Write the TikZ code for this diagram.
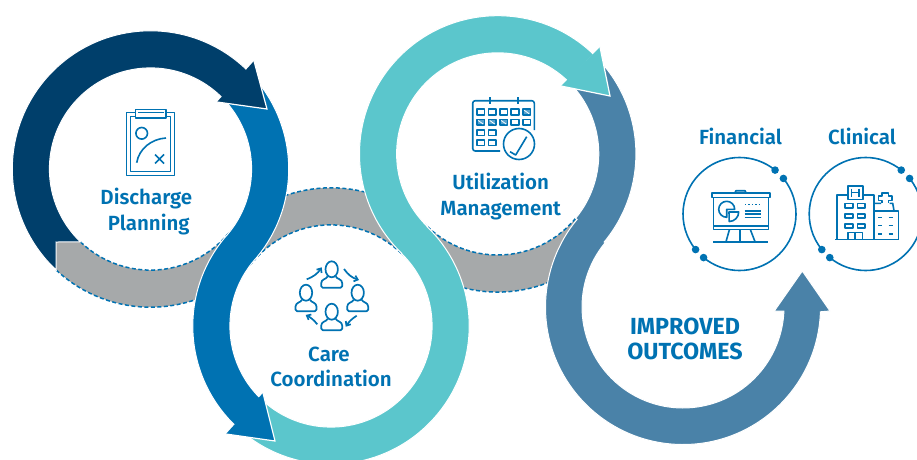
\documentclass[tikz,border=0pt]{standalone}
\usepackage{fontspec}
\setmainfont{Fira Sans}[BoldFont={Fira Sans SemiBold}]
\newfontfamily\heavyfont{Fira Sans Bold}
\usetikzlibrary{calc,arrows.meta}
\definecolor{cdark}{HTML}{003F6B}
\definecolor{cblue}{HTML}{0072B2}
\definecolor{cteal}{HTML}{5BC6CC}
\definecolor{csteel}{HTML}{4A82A8}
\definecolor{cgray}{HTML}{A6A9AA}
\tikzset{
  band/.style={draw=white,line width=1pt,line join=miter},
  graydash/.style={draw=cblue,line width=1.5pt,dash pattern=on 4pt off 2.5pt},
  label/.style={text=cblue,font=\bfseries\fontsize{20.5}{23}\selectfont,inner sep=0pt,anchor=base},
  big/.style={text=cblue,font=\heavyfont\fontsize{23.3}{25}\selectfont,inner sep=0pt,anchor=base},
  ico/.style={draw=cblue,line width=1.6pt,line cap=butt,line join=round},
  dot/.style={fill=cblue,draw=none},
  barb/.style={ico,line width=1.7pt,-{Straight Barb[length=3.5pt,width=6pt]}},
}
\newcommand{\personicon}[2]{%
  \draw[ico,line width=1.7pt] (#1,#2) ellipse[x radius=6.2pt,y radius=8pt];
  \draw[ico,line width=1.7pt,rounded corners=1.6pt] (#1-4,#2+7) .. controls (#1-5,#2+10) and (#1-10.5,#2+9.5) .. (#1-10.5,#2+15.5) -- (#1-10.5,#2+18.5) -- (#1+10.5,#2+18.5) -- (#1+10.5,#2+15.5) .. controls (#1+10.5,#2+9.5) and (#1+5,#2+10) .. (#1+4,#2+7);
}
\newcommand{\calcell}[2]{\draw[ico] (#1-3.8,#2-2.9) rectangle (#1+3.8,#2+2.9);}
\newcommand{\calfull}[2]{\draw[ico,fill=cblue!65] (#1-3.8,#2-2.9) rectangle (#1+3.8,#2+2.9);
  \draw[white,line width=.8pt] (#1-2.5,#2-1.8) -- (#1+2.5,#2+1.8);}
\begin{document}
\begin{tikzpicture}[x=1pt,y=1pt]
\useasboundingbox (0,0) rectangle (917,459);
\clip (0,0) rectangle (917,459);
\coordinate (c1) at (150.5,290);
\coordinate (c2) at (331,133);
\coordinate (c3) at (497.7,305.1);
\coordinate (c4) at (683,152);
\def\ri{101.1}
\def\ro{138.2}
% gray links
\path[fill=cgray] ($(c1)+(226.2:\ri)$) -- (56,217) -- ($(c1)+(227:\ro)$) arc[start angle=227,end angle=319.07,radius=\ro pt] -- ($(c1)+(319.07:\ri)$) arc[start angle=319.07,end angle=226.2,radius=\ri pt] -- cycle;
\draw[graydash] ($(c1)+(226.2:\ri)$) arc[start angle=226.2,end angle=319.07,radius=\ri pt];
\draw[graydash] ($(c1)+(227:\ro)$) arc[start angle=227,end angle=319.07,radius=\ro pt];
\path[fill=cgray] ($(c2)+(45.93:\ri)$) arc[start angle=45.93,end angle=139.07,radius=\ri pt] -- ($(c2)+(139.07:\ro)$) arc[start angle=139.07,end angle=45.93,radius=\ro pt] -- cycle;
\draw[graydash] ($(c2)+(45.93:\ri)$) arc[start angle=45.93,end angle=139.07,radius=\ri pt];
\draw[graydash] ($(c2)+(45.93:\ro)$) arc[start angle=45.93,end angle=139.07,radius=\ro pt];
\path[fill=cgray] ($(c3)+(225.93:\ri)$) arc[start angle=225.93,end angle=320.4,radius=\ri pt] -- ($(c3)+(320.4:\ro)$) arc[start angle=320.4,end angle=225.93,radius=\ro pt] -- cycle;
\draw[graydash] ($(c3)+(225.93:\ri)$) arc[start angle=225.93,end angle=320.4,radius=\ri pt];
\draw[graydash] ($(c3)+(225.93:\ro)$) arc[start angle=225.93,end angle=320.4,radius=\ro pt];
% steel band
\path[band,fill=csteel] ($(c3)+(45:\ro)$) arc[start angle=45,end angle=-39.6,radius=\ro pt]
  -- ($(c4)+(140.4:101)$) arc[start angle=140.4,end angle=357.7,radius=101pt]
  -- (774.3,148) -- (802.3,188) -- (830,148)
  -- ($(c4)+(358:137.5)$) arc[start angle=358,end angle=140.4,radius=137.5pt]
  -- ($(c3)+(-39.6:\ri)$) arc[start angle=-39.6,end angle=45,radius=\ri pt] -- cycle;
% teal band
\path[band,fill=cteal] ($(c2)+(227:\ro)$) arc[start angle=227,end angle=405.93,radius=\ro pt]
  -- ($(c3)+(225.93:\ri)$) arc[start angle=225.93,end angle=46,radius=\ri pt]
  -- ($(c3)+(46:\ro)$) arc[start angle=46,end angle=225.93,radius=\ro pt]
  -- ($(c2)+(45.93:\ri)$) arc[start angle=45.93,end angle=-133,radius=\ri pt] -- cycle;
\path[fill=cteal] (600,412) -- (610,363) -- (561,373) -- cycle;
\draw[white,line width=1.2pt] (561,373) -- (610,363) -- (600,412);
% blue band
\path[band,fill=cblue] ($(c1)+(44:\ro)$) arc[start angle=44,end angle=-40.93,radius=\ro pt]
  -- ($(c2)+(139.07:\ri)$) arc[start angle=139.07,end angle=226,radius=\ri pt]
  -- ($(c2)+(226:\ro)$) arc[start angle=226,end angle=139.07,radius=\ro pt]
  -- ($(c1)+(-40.93:\ri)$) arc[start angle=-40.93,end angle=44,radius=\ri pt] -- cycle;
\path[fill=cblue] (263,66) -- (275,18) -- (226,25) -- cycle;
\draw[white,line width=1.2pt] (263,66) -- (275,18) -- (226,25);
% dark band
\path[band,fill=cdark] ($(c1)+(45:\ro)$) arc[start angle=45,end angle=227,radius=\ro pt]
  -- (56,217) -- ($(c1)+(226.2:\ri)$) arc[start angle=226.2,end angle=45,radius=\ri pt] -- cycle;
\path[fill=cdark] (254,398) -- (267,350) -- (217,357) -- cycle;
\draw[white,line width=1.2pt] (254,398) -- (267,350) -- (217,357);

% pixel coordinates, y down
\begin{scope}[shift={(0,459)},yscale=-1]
  % labels (at baseline)
  \node[label] (discharge) at (146.3,204) {Discharge};
  \node[label] (planning) at (148.7,230) {Planning};
  \node[label] (care) at (329,361) {Care};
  \node[label] (coordination) at (331,386.5) {Coordination};
  \node[label] (utilization) at (500.7,189) {Utilization};
  \node[label] (management) at (500.7,215) {Management};
  \node[big] (improved) at (685,334) {IMPROVED};
  \node[big] (outcomes) at (685,359) {OUTCOMES};
  \node[label] (financial) at (740.5,144) {Financial};
  \node[label] (clinical) at (862,144) {Clinical};

  % clipboard
  \draw[ico] (126.5,112.5) rectangle (174.5,175.5);
  \draw[ico] (130.5,116.5) rectangle (170.5,171.5);
  \draw[ico,fill=white] (135.5,109.5) rectangle (166,118);
  \draw[ico,line width=.9pt] (138,112.8) -- (163.5,112.8);
  \draw[ico] (141.7,133.3) circle[radius=5.8pt];
  \draw[ico] (136.7,162.7) .. controls (139,149) and (151,139) .. (166,138);
  \draw[ico] (155,154.5) -- (164,163.5) (164,154.5) -- (155,163.5);

  % people
  \personicon{331.7}{269.3}
  \personicon{306}{292.7}
  \personicon{357.7}{292.7}
  \personicon{331.7}{311.7}
  \draw[barb] (306.7,279.3) to[bend left=18] (321.7,267.3);
  \draw[barb] (344,269) to[bend left=18] (359,280);
  \draw[barb] (356.7,315.7) to[bend left=12] (345.7,326.7);
  \draw[barb] (317.3,324.3) to[bend left=12] (305.7,315);

  % calendar
  \draw[ico,rounded corners=2.5pt] (500,151) -- (472.7,151) -- (472.7,100.7) -- (534.3,100.7) -- (534.3,130);
  \draw[ico] (490,97) -- (490,104) (517.7,97) -- (517.7,104);
  \calcell{480.7}{112}\calcell{492.3}{112}\calcell{503.7}{112}\calcell{515}{112}\calfull{526.7}{112}
  \calfull{480.7}{122.3}\calfull{492.3}{122.3}\calfull{503.7}{122.3}\calcell{515}{122.3}\calcell{526.7}{122.3}
  \calcell{480.7}{132.7}\calcell{492.3}{132.7}
  \calcell{480.7}{142.7}\calcell{492.3}{142.7}
  \draw[ico,fill=white] (519,144) circle[radius=15.5pt];
  \draw[ico] (510,151.7) -- (515.7,155) -- (526.7,136.7);

  % rings with dots (local angles, y down)
  \foreach \cx in {739.5,865.7} {
    \draw[cblue,line width=1.6pt] (\cx,214) ++(-39:56.5) arc[start angle=-39,end angle=129.5,radius=56.5pt];
    \draw[cblue,line width=1.6pt] (\cx,214) ++(141:56.5) arc[start angle=141,end angle=309,radius=56.5pt];
    \fill[dot] (\cx,214) ++(-39:56.5) circle[radius=3.8pt];
    \fill[dot] (\cx,214) ++(-51:56.5) circle[radius=3.8pt];
    \fill[dot] (\cx,214) ++(129.5:56.5) circle[radius=3.8pt];
    \fill[dot] (\cx,214) ++(141:56.5) circle[radius=3.8pt];
  }

  % presentation
  \draw[ico] (711.7,193) rectangle (770,197.3);
  \draw[ico] (735,192.7) -- (736,190.7) -- (745,190.7) -- (746,192.7);
  \draw[ico] (713.3,197.3) -- (713.3,229.3) -- (768.3,229.3) -- (768.3,197.3);
  \draw[ico] (713.3,226) -- (768.3,226);
  \draw[ico] (729.3,230) -- (726,241.7) (740,230) -- (740,241.7) (750.5,230) -- (755,241.7);
  \draw[ico] (713.3,242) -- (768.3,242);
  \draw[ico] (726.7,209.3) -- (734.7,209.3) arc[start angle=0,end angle=-270,radius=8pt] -- cycle;
  \draw[ico,fill=white] (729,212) -- (738.7,212) arc[start angle=0,end angle=90,radius=9.5pt] -- cycle;
  \draw[ico,line width=1.5pt,dash pattern=on 1.4pt off 2pt] (745,204.7) -- (760.5,204.7);
  \draw[ico] (744.5,210.7) -- (760.5,210.7) (744.5,214) -- (760.5,214) (744.5,217.3) -- (760.5,217.3);

  % hospital
  \draw[ico] (836.7,239.3) -- (836.7,195) -- (847.7,195) (862.7,195) -- (874,195) -- (874,239.3);
  \draw[ico] (847.7,185.7) rectangle (862.7,199.5);
  \draw[ico] (851.5,188.5) -- (851.5,196.5) (858.8,188.5) -- (858.8,196.5) (851.5,192.5) -- (858.8,192.5);
  \foreach \wy in {203.5,213.7,223.8} {
    \draw[ico] (845,\wy) rectangle (852.7,\wy+4.3);
    \draw[ico] (857.5,\wy) rectangle (865.2,\wy+4.3);
  }
  \draw[ico] (847.7,239.3) -- (847.7,232.3) -- (862.3,232.3) -- (862.3,239.3) (855,232.3) -- (855,239.3);
  \draw[ico] (835,239.5) -- (899.3,239.5);
  \draw[ico] (874,210.7) -- (898.3,210.7) -- (898.3,239.3);
  \draw[ico] (874,203.3) -- (881,203.3) (889.5,203.3) -- (892.7,203.3) -- (894,210.7);
  \draw[ico] (882,203.3) -- (882,200.5) -- (878.5,200.5) -- (878.5,196) -- (882,196) -- (882,192.7) -- (888.5,192.7) -- (888.5,196) -- (892,196) -- (892,200.5) -- (888.5,200.5) -- (888.5,203.3);
  \foreach \wy in {217.3,225.3,233.7} {
    \draw[ico,line width=1.6pt] (878,\wy) -- (882.3,\wy) (888.5,\wy) -- (893.3,\wy);
  }
\end{scope}
\end{tikzpicture}
\end{document}
